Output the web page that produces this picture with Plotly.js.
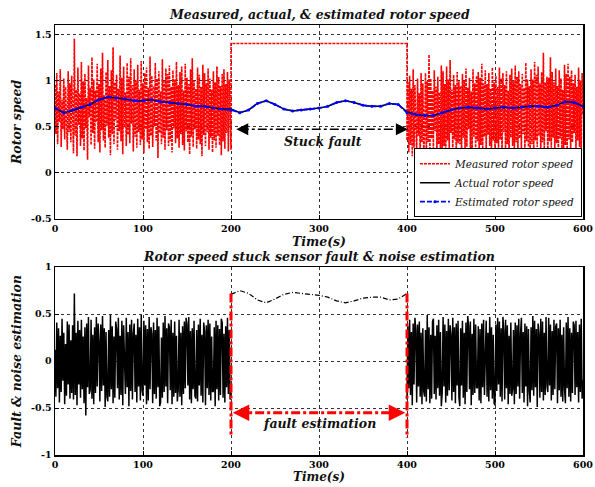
<!DOCTYPE html>
<html>
<head>
<meta charset="utf-8">
<script src="https://cdn.plot.ly/plotly-3.0.1.min.js"></script>
<style>html,body{margin:0;padding:0;background:#fff}#chart{width:595px;height:487px}</style>
</head>
<body>
<div id="chart"></div>
<script>
// ---------- DATA ----------
const tickVals = [0, 100, 200, 300, 400, 500, 600];
const noiseStep = 1;     // s between noisy samples
const smoothStep = 10;   // s between smooth samples

// measured rotor speed, t = 0..200 (step 1)
const measuredA = [
0.95,0.42,1.08,0.31,0.88,0.55,1.12,0.28,0.79,0.47,
1.02,0.36,0.93,0.62,0.25,1.10,0.44,0.97,0.33,1.05,
0.58,0.21,1.45,0.40,0.90,0.18,1.14,0.52,0.86,0.29,
1.20,0.37,0.99,0.24,1.07,0.48,0.81,0.14,1.16,0.60,
0.92,0.30,1.25,0.43,1.01,0.26,0.89,0.55,1.18,0.33,
0.96,0.22,1.13,0.46,1.30,0.35,0.84,0.27,1.09,0.51,
1.22,0.38,0.94,0.19,1.11,0.42,1.36,0.31,0.98,0.57,
1.06,0.25,0.91,0.45,1.27,0.34,1.03,0.20,1.15,0.49,
0.87,0.29,1.19,0.41,1.04,0.32,1.24,0.53,0.95,0.23,
1.12,0.39,1.00,0.27,1.17,0.44,0.90,0.30,1.21,0.36,
0.97,0.21,1.08,0.47,1.14,0.33,0.92,0.26,1.26,0.40,
1.05,0.28,0.94,0.50,1.19,0.35,1.02,0.16,1.10,0.43,
0.88,0.31,1.23,0.38,0.99,0.25,1.13,0.46,1.07,0.29,
1.16,0.34,0.93,0.22,1.11,0.48,1.01,0.32,1.20,0.37,
0.95,0.27,1.09,0.42,1.15,0.30,0.89,0.24,1.18,0.45,
1.03,0.33,0.96,0.20,1.12,0.39,1.24,0.28,1.00,0.47,
0.91,0.26,1.14,0.36,1.06,0.31,0.93,0.18,1.17,0.41,
1.08,0.29,0.97,0.44,1.13,0.25,1.02,0.38,0.90,0.22,
1.10,0.35,0.98,0.27,1.15,0.40,1.04,0.30,0.94,0.19,
1.07,0.34,1.12,0.26,0.96,0.43,1.09,0.23,1.01,0.37,
0.25];
// stuck sensor level, t = 200..400
const stuckTimes = [200, 400];
const stuckLevel = [1.4, 1.4];
// measured rotor speed, t = 400..600 (step 1)
const measuredB = [
0.35,0.98,0.22,1.05,0.30,0.91,0.18,1.12,0.27,0.95,
0.52,0.20,1.02,0.40,0.86,0.15,1.08,0.33,0.97,0.24,
0.40,1.08,0.15,0.99,0.33,1.28,0.24,1.02,0.37,0.89,
0.26,1.11,0.45,0.93,0.19,1.04,0.31,0.87,0.21,1.16,
0.20,1.10,0.29,0.96,0.17,1.15,0.35,1.01,0.26,1.22,
0.43,0.90,0.23,1.06,0.36,0.95,0.14,1.09,0.32,0.99,
0.31,0.94,0.19,1.07,0.38,1.00,0.23,1.13,0.28,0.92,
0.47,1.03,0.25,0.88,0.18,1.12,0.39,0.97,0.27,1.05,
0.34,1.09,0.16,1.03,0.30,1.18,0.25,0.97,0.39,1.11,
0.22,0.96,0.41,1.08,0.29,0.91,0.20,1.14,0.35,0.98,
0.21,1.05,0.32,0.93,0.27,1.14,0.36,1.02,0.18,1.08,
0.44,0.95,0.24,1.10,0.31,0.89,0.17,1.06,0.38,1.13,
0.29,0.99,0.24,1.16,0.33,1.04,0.20,1.10,0.37,0.96,
0.26,1.07,0.42,0.92,0.21,1.19,0.34,1.01,0.28,0.94,
0.26,1.12,0.31,1.01,0.22,1.20,0.35,1.06,0.28,1.15,
0.40,0.97,0.19,1.09,0.33,1.30,0.25,0.98,0.45,1.04,
0.19,1.03,0.34,1.25,0.27,1.09,0.38,0.98,0.23,1.13,
0.32,0.94,0.21,1.11,0.37,1.02,0.26,0.90,0.18,1.17,
0.30,1.07,0.25,1.18,0.36,1.04,0.21,1.11,0.33,0.97,
0.43,1.06,0.24,0.93,0.35,1.14,0.28,1.00,0.22,1.08,
0.62];
// actual rotor speed, t = 0..600 (step 10)
const actualSpeed = [
0.70,0.65,0.67,0.71,0.74,0.79,0.82,0.81,0.80,0.78,
0.78,0.79,0.77,0.76,0.75,0.74,0.72,0.72,0.70,0.69,
0.69,0.65,0.68,0.75,0.78,0.74,0.69,0.67,0.68,0.69,
0.70,0.72,0.76,0.78,0.76,0.73,0.72,0.72,0.75,0.74,
0.66,0.63,0.62,0.62,0.65,0.68,0.70,0.71,0.70,0.69,
0.70,0.71,0.70,0.71,0.72,0.72,0.71,0.73,0.77,0.76,
0.72];
// estimated rotor speed, t = 0..600 (step 10)
const estimatedSpeed = [
0.70,0.65,0.68,0.71,0.74,0.79,0.82,0.81,0.80,0.78,
0.78,0.79,0.77,0.76,0.75,0.74,0.72,0.72,0.70,0.69,
0.68,0.65,0.68,0.75,0.78,0.74,0.69,0.67,0.68,0.69,
0.70,0.72,0.76,0.78,0.76,0.73,0.72,0.72,0.75,0.74,
0.65,0.63,0.62,0.62,0.65,0.68,0.70,0.71,0.70,0.69,
0.70,0.71,0.70,0.71,0.72,0.72,0.71,0.73,0.77,0.76,
0.72];
// fault & noise estimation, t = 0..200 (step 1)
const noiseEstA = [
0.12,-0.38,0.41,-0.29,0.35,-0.44,0.27,-0.33,0.45,-0.21,
0.30,-0.46,0.18,-0.37,0.42,-0.25,0.39,-0.40,0.22,-0.34,
0.38,-0.41,0.72,-0.36,0.30,-0.47,0.43,-0.25,0.33,-0.39,
0.44,-0.30,0.26,-0.45,0.36,-0.58,0.40,-0.28,0.47,-0.35,
-0.31,0.44,-0.40,0.28,-0.46,0.36,-0.34,0.47,-0.27,0.40,
0.21,-0.43,0.39,-0.32,0.48,-0.26,0.35,-0.49,0.31,-0.38,
-0.43,0.33,-0.38,0.49,-0.30,0.37,-0.45,0.26,-0.39,0.42,
0.34,-0.29,0.46,-0.41,0.27,-0.36,0.43,-0.47,0.38,-0.24,
-0.35,0.46,-0.28,0.31,-0.48,0.39,-0.32,0.44,-0.41,0.29,
0.40,-0.33,0.28,-0.44,0.45,-0.27,0.36,-0.42,0.49,-0.31,
-0.37,0.43,-0.26,0.38,-0.46,0.34,-0.42,0.47,-0.30,0.36,
0.29,-0.45,0.41,-0.35,0.33,-0.40,0.46,-0.28,0.37,-0.48,
-0.44,0.25,-0.39,0.41,-0.33,0.48,-0.27,0.35,-0.45,0.40,
0.36,-0.31,0.44,-0.46,0.30,-0.38,0.42,-0.34,0.27,-0.43,
-0.31,0.44,-0.38,0.30,-0.47,0.37,-0.35,0.42,-0.29,0.46,
0.39,-0.26,0.47,-0.41,0.32,-0.45,0.35,-0.30,0.43,-0.37,
-0.40,0.33,-0.43,0.39,-0.26,0.45,-0.37,0.28,-0.44,0.41,
0.31,-0.47,0.38,-0.29,0.44,-0.36,0.40,-0.42,0.26,-0.33,
-0.32,0.36,-0.48,0.43,-0.30,0.38,-0.42,0.34,-0.36,0.45,
0.41,-0.39,0.29,-0.44,0.37,-0.28,0.46,-0.35,0.33,-0.41,
-0.30];
// fault estimation, t = 200..400 (step 10)
const faultEst = [
0.71,0.75,0.72,0.65,0.62,0.66,0.71,0.73,0.72,0.71,
0.70,0.68,0.64,0.62,0.64,0.67,0.68,0.68,0.65,0.66,
0.72];
// fault & noise estimation, t = 400..600 (step 1)
const noiseEstB = [
-0.41,0.37,-0.29,0.44,-0.36,0.31,-0.47,0.40,-0.25,0.46,
0.33,-0.44,0.39,-0.27,0.42,-0.38,0.30,-0.46,0.35,-0.32,
-0.38,0.33,-0.43,0.49,-0.30,0.36,-0.45,0.28,-0.40,0.42,
0.45,-0.35,0.27,-0.41,0.38,-0.29,0.44,-0.37,0.31,-0.48,
-0.34,0.47,-0.27,0.39,-0.44,0.32,-0.37,0.45,-0.31,0.38,
0.28,-0.42,0.46,-0.33,0.36,-0.45,0.40,-0.26,0.43,-0.39,
-0.48,0.35,-0.26,0.43,-0.39,0.30,-0.46,0.41,-0.33,0.48,
0.37,-0.30,0.42,-0.47,0.29,-0.36,0.45,-0.34,0.39,-0.28,
-0.29,0.37,-0.42,0.34,-0.45,0.40,-0.28,0.44,-0.36,0.31,
0.43,-0.38,0.30,-0.43,0.47,-0.31,0.36,-0.40,0.28,-0.45,
-0.47,0.39,-0.32,0.46,-0.25,0.42,-0.38,0.35,-0.43,0.47,
0.32,-0.41,0.44,-0.29,0.38,-0.46,0.27,-0.35,0.41,-0.37,
-0.30,0.33,-0.46,0.41,-0.35,0.38,-0.27,0.45,-0.40,0.29,
0.46,-0.34,0.31,-0.44,0.40,-0.27,0.37,-0.48,0.34,-0.32,
-0.44,0.36,-0.31,0.48,-0.37,0.43,-0.28,0.34,-0.49,0.40,
0.29,-0.39,0.45,-0.33,0.42,-0.42,0.30,-0.36,0.47,-0.26,
-0.33,0.46,-0.26,0.39,-0.42,0.32,-0.36,0.44,-0.30,0.37,
0.40,-0.45,0.35,-0.31,0.44,-0.38,0.28,-0.43,0.36,-0.29,
-0.45,0.41,-0.29,0.47,-0.38,0.35,-0.43,0.30,-0.34,0.42,
0.38,-0.36,0.43,-0.28,0.31,-0.44,0.39,-0.33,0.45,-0.40,
-0.20];

// ---------- BUILD ----------
function grid(start, step, n) { const a = []; for (let i = 0; i < n; i++) a.push(start + i * step); return a; }
const tA = grid(0, noiseStep, measuredA.length);
const tB = grid(400, noiseStep, measuredB.length);
const tS = grid(0, smoothStep, actualSpeed.length);
const tF = grid(200, smoothStep, faultEst.length);
const tNA = grid(0, noiseStep, noiseEstA.length);
const tNB = grid(400, noiseStep, noiseEstB.length);

const FONT = 'DejaVu Serif';
const traces = [
  { x: tA.concat(stuckTimes, tB), y: measuredA.concat(stuckLevel, measuredB),
    type: 'scatter', mode: 'lines', name: 'Measured rotor speed',
    line: { color: '#ff0000', width: 1.6, dash: '3px,1px' }, xaxis: 'x', yaxis: 'y' },
  { x: tS, y: actualSpeed, type: 'scatter', mode: 'lines', name: 'Actual rotor speed',
    line: { color: '#000000', width: 1.5 }, xaxis: 'x', yaxis: 'y' },
  { x: tS, y: estimatedSpeed, type: 'scatter', mode: 'lines+markers', name: 'Estimated rotor speed',
    line: { color: '#0000ff', width: 1.8, dash: '5px,2px' }, marker: { color: '#0000ff', size: 3 },
    xaxis: 'x', yaxis: 'y' },
  // noise estimate (dense band)
  { x: tNA.concat([null], tNB), y: noiseEstA.concat([null], noiseEstB),
    type: 'scatter', mode: 'lines', showlegend: false, connectgaps: false,
    line: { color: '#000000', width: 1.5 }, xaxis: 'x2', yaxis: 'y2' },
  // fault estimate during stuck period
  { x: tF, y: faultEst, type: 'scatter', mode: 'lines', showlegend: false,
    line: { color: '#000000', width: 1.2, dash: '5px,2px,1px,2px' }, xaxis: 'x2', yaxis: 'y2' }
];

const tickFont = { family: FONT, size: 9.5, color: '#000', weight: 'bold' };
const titleFont = { family: FONT, size: 12.5, color: '#111', weight: 'bold', style: 'italic' };
function xax(anchor, titleText) {
  return { range: [0, 600], tickvals: tickVals, ticktext: tickVals.map(String), anchor: anchor,
    showline: true, mirror: true, linecolor: '#000', linewidth: 1.5,
    showgrid: true, gridcolor: '#000', griddash: '3px,3px', gridwidth: 0.8, zeroline: false,
    ticks: 'inside', ticklen: 4, tickcolor: '#000', tickfont: tickFont,
    title: { text: titleText, font: titleFont, standoff: 0 } };
}
function yax(range, vals, text, domain, anchor) {
  return { range: range, tickvals: vals, ticktext: vals.map(String), domain: domain, anchor: anchor,
    showline: true, mirror: true, linecolor: '#000', linewidth: 1.5,
    showgrid: true, gridcolor: '#000', griddash: '3px,3px', gridwidth: 0.8, zeroline: false,
    ticks: 'inside', ticklen: 4, tickcolor: '#000', tickfont: tickFont,
    title: { text: text, font: titleFont, standoff: 6 } };
}

const layout = {
  width: 595, height: 487,
  margin: { l: 55, r: 12, t: 25, b: 32 },
  paper_bgcolor: '#fff', plot_bgcolor: '#fff',
  showlegend: true,
  legend: { x: 0.998, xanchor: 'right', y: 0.553, yanchor: 'bottom',
    bgcolor: '#fff', bordercolor: '#000', borderwidth: 1,
    font: { family: FONT, size: 10.5, style: 'italic', color: '#111' },
    tracegroupgap: 0, itemwidth: 30 },
  xaxis: xax('y', 'Time(s)'),
  yaxis: yax([-0.5, 1.6], [-0.5, 0, 0.5, 1, 1.5], 'Rotor speed', [0.549, 1], 'x'),
  xaxis2: xax('y2', ''),
  yaxis2: yax([-1, 1], [-1, -0.5, 0, 0.5, 1], 'Fault & noise estimation', [0, 0.437], 'x2'),
  shapes: [
    { type: 'line', xref: 'x', yref: 'y', x0: 210, x1: 397, y0: 0.47, y1: 0.47,
      line: { color: '#000', width: 1.5, dash: 'dashdot' } },
    { type: 'line', xref: 'x2', yref: 'y2', x0: 200, x1: 200, y0: 0.72, y1: -0.8,
      line: { color: '#ff0000', width: 3, dash: 'dashdot' } },
    { type: 'line', xref: 'x2', yref: 'y2', x0: 400, x1: 400, y0: 0.72, y1: -0.82,
      line: { color: '#ff0000', width: 3, dash: 'dashdot' } },
    { type: 'line', xref: 'x2', yref: 'y2', x0: 207, x1: 393, y0: -0.55, y1: -0.55,
      line: { color: '#ff0000', width: 3, dash: 'dashdot' } }
  ],
  annotations: [
    { xref: 'paper', yref: 'paper', x: 0.5, y: 1, yanchor: 'bottom', yshift: 1, showarrow: false,
      text: 'Measured, actual, & estimated rotor speed', font: titleFont },
    { xref: 'paper', yref: 'paper', x: 0.5, y: 0.437, yanchor: 'bottom', yshift: 1, showarrow: false,
      text: 'Rotor speed stuck sensor fault &amp; noise estimation', font: titleFont },
    { xref: 'paper', yref: 'paper', x: 0.5, y: 0, yanchor: 'bottom', yshift: -31, showarrow: false,
      text: 'Time(s)', font: { family: FONT, size: 12, color: '#111', weight: 'bold', style: 'italic' } },
    { xref: 'x', yref: 'y', x: 304, y: 0.34, showarrow: false, text: 'Stuck fault', font: titleFont },
    { xref: 'x2', yref: 'y2', x: 301, y: -0.67, showarrow: false, text: 'fault estimation', font: titleFont },
    // arrow heads
    { xref: 'x', yref: 'y', x: 206, y: 0.47, ax: 12, ay: 0, showarrow: true, arrowhead: 2, arrowsize: 1.6, arrowwidth: 1.5, arrowcolor: '#000', text: '' },
    { xref: 'x', yref: 'y', x: 401, y: 0.47, ax: -12, ay: 0, showarrow: true, arrowhead: 2, arrowsize: 1.6, arrowwidth: 1.5, arrowcolor: '#000', text: '' },
    { xref: 'x2', yref: 'y2', x: 202, y: -0.55, ax: 12, ay: 0, showarrow: true, arrowhead: 2, arrowsize: 1.1, arrowwidth: 3, arrowcolor: '#ff0000', text: '' },
    { xref: 'x2', yref: 'y2', x: 398, y: -0.55, ax: -12, ay: 0, showarrow: true, arrowhead: 2, arrowsize: 1.1, arrowwidth: 3, arrowcolor: '#ff0000', text: '' }
  ]
};

Plotly.newPlot('chart', traces, layout, { displayModeBar: false, staticPlot: true });
</script>
</body>
</html>
